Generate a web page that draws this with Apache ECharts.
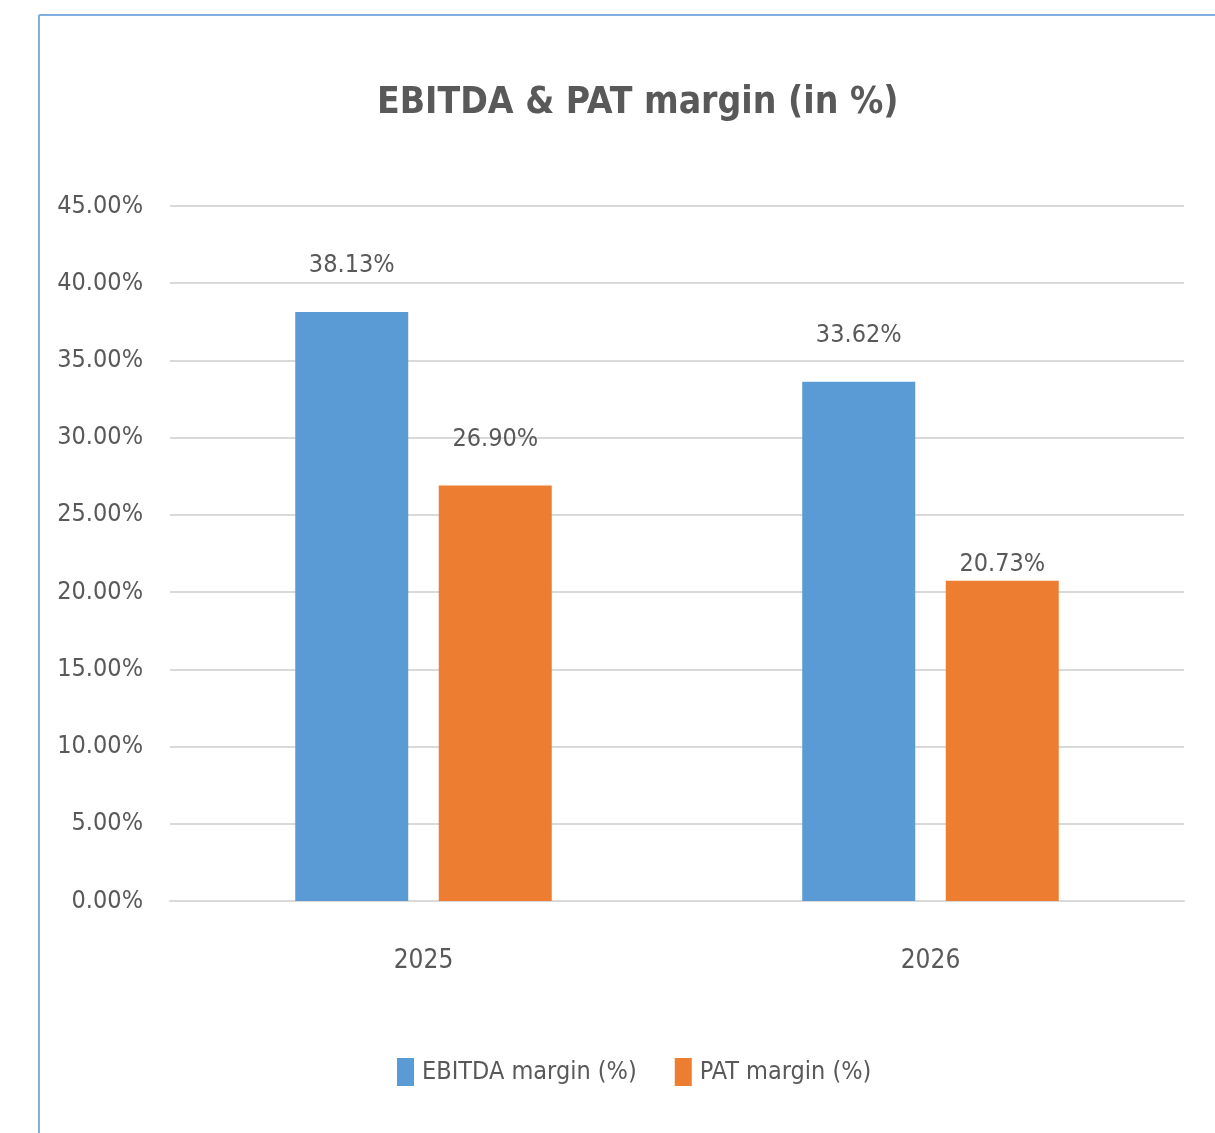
<!DOCTYPE html>
<html>
<head>
<meta charset="utf-8">
<title>EBITDA & PAT margin</title>
<script src="https://cdn.jsdelivr.net/npm/echarts@6/dist/echarts.min.js"></script>
<style>
  html, body { margin: 0; padding: 0; background: #fff; }
  #chart { width: 1215px; height: 1133px; }
</style>
</head>
<body>
<div id="chart"></div>
<script>
const years = ["2025", "2026"];
const ebitdaMargin = [38.13, 33.62];
const patMargin = [26.90, 20.73];
const seriesNames = ["EBITDA margin (%)", "PAT margin (%)"];

const FONT = "'Liberation Sans Narrow', 'DejaVu Sans Condensed', sans-serif";
const TEXT = "#595959";

const chart = echarts.init(document.getElementById("chart"));

const pct = (v) => v.toFixed(2) + "%";

const labelStyle = {
  show: true, position: "top", distance: 34,
  color: TEXT, fontSize: 25, fontFamily: FONT,
  formatter: (p) => pct(p.value),
};

const option = {
  backgroundColor: "#fff",
  textStyle: { fontFamily: FONT },
  title: {
    text: "EBITDA & PAT margin (in %)",
    left: 372,
    top: 80,
    textStyle: { fontFamily: FONT, fontSize: 37, fontWeight: "bold", color: TEXT },
  },
  graphic: [
    { type: "line", shape: { x1: 39, y1: 15, x2: 1215, y2: 15 }, style: { stroke: "#7fb0e0", lineWidth: 2 } },
    { type: "line", shape: { x1: 39, y1: 15, x2: 39, y2: 1133 }, style: { stroke: "#7fb0e0", lineWidth: 2 } },
  ],
  legend: {
    left: 392,
    top: 1053,
    itemWidth: 17,
    itemHeight: 28,
    itemGap: 38,
    icon: "rect",
    textStyle: { fontFamily: FONT, fontSize: 25, color: TEXT, padding: [0, 0, 0, 3] },
    data: seriesNames,
  },
  grid: { left: 170, right: 31, top: 206, bottom: 232 },
  xAxis: {
    type: "category",
    data: years,
    axisLine: { lineStyle: { color: "#d9d9d9", width: 2 } },
    axisTick: { show: false },
    axisLabel: { color: TEXT, fontSize: 26, margin: 47 },
  },
  yAxis: {
    type: "value",
    min: 0,
    max: 45,
    interval: 5,
    axisLine: { show: false },
    axisTick: { show: false },
    axisLabel: { color: TEXT, fontSize: 25, margin: 27, formatter: pct },
    splitLine: { lineStyle: { color: "#d9d9d9", width: 2 } },
  },
  series: [
    {
      name: seriesNames[0],
      type: "bar",
      data: ebitdaMargin,
      barWidth: 113,
      barGap: "27%",
      itemStyle: { color: "#5B9BD5" },
      label: labelStyle,
    },
    {
      name: seriesNames[1],
      type: "bar",
      // the 2026 PAT label sits right on top of its bar in the original
      data: patMargin.map((v, i) => (i === 1 ? { value: v, label: { distance: 4 } } : v)),
      barWidth: 113,
      barGap: "27%",
      itemStyle: { color: "#ED7D31" },
      label: labelStyle,
    },
  ],
};

chart.setOption(option);
</script>
</body>
</html>
